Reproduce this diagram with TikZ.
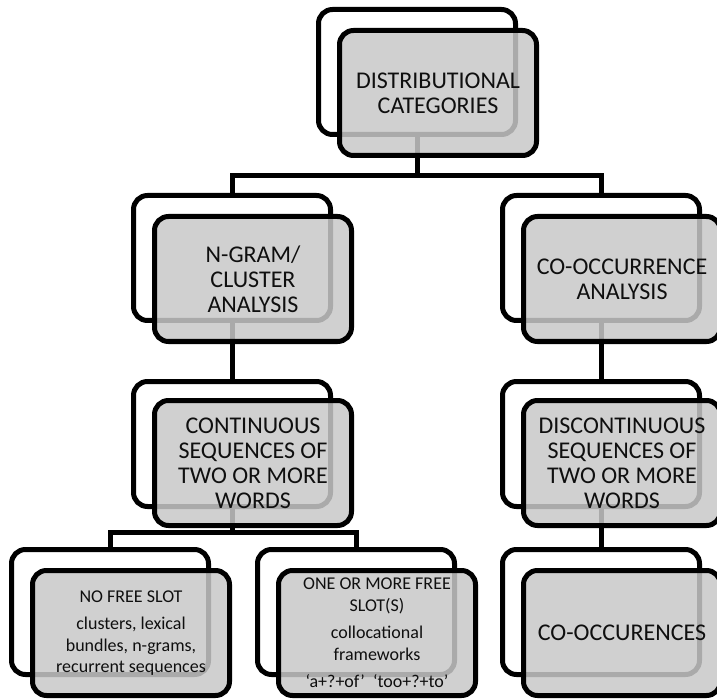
\documentclass[tikz,border=0pt]{standalone}
\usepackage{fontspec}
\setmainfont{Carlito}
\newcommand\catfontbig{\fontsize{24}{25}\selectfont}
\newcommand\catfontsmall{\fontsize{18}{21.5}\selectfont}
\definecolor{frontgray}{RGB}{200,200,200}
\definecolor{labelink}{RGB}{15,15,15}
\begin{document}
\begin{tikzpicture}[x=1pt,y=-1pt,
  boxbase/.style={line width=5pt, rounded corners=14pt, minimum width=197pt,
    minimum height=125pt, inner sep=0pt, rectangle},
  backbox/.style={boxbase, draw=black, fill=white},
  frontbox/.style={boxbase, draw=black, fill=frontgray, fill opacity=0.85,
    draw opacity=1, text opacity=1, align=center, font=\catfontbig, text=labelink},
  link/.style={draw=black, line width=5pt}
]
\useasboundingbox (0,0) rectangle (717,700);

% outline boxes sitting behind each category
\node[backbox] (Ab) at (417,72)  {};
\node[backbox] (Bb) at (232,258) {};
\node[backbox] (Cb) at (601,258) {};
\node[backbox] (Db) at (232,444) {};
\node[backbox] (Eb) at (601,444) {};
\node[backbox] (Fb) at (110,612) {};
\node[backbox] (Gb) at (356,612) {};
\node[backbox] (Hb) at (601,612) {};

% tree connectors
\coordinate (barTop) at (0,176);
\coordinate (barLow) at (0,532);
\draw[link] (Ab.south) -- (Ab.south |- barTop);
\draw[link] (Bb.north) |- (barTop -| Cb.north) -- (Cb.north);
\draw[link] (Bb.south) -- (Db.north);
\draw[link] (Cb.south) -- (Eb.north);
\draw[link] (Db.south) -- (Db.south |- barLow);
\draw[link] (Fb.north) |- (barLow -| Gb.north) -- (Gb.north);
\draw[link] (Eb.south) -- (Hb.north);

% translucent labelled boxes
\node[frontbox] (Af) at (438,93) {DISTRIBUTIONAL\\CATEGORIES};
\node[frontbox] (Bf) at (253,279) {\fontsize{24}{27}\selectfont N-GRAM/\\CLUSTER\\ANALYSIS};
\node[frontbox] (Cf) at (622,279) {CO-OCCURRENCE\\ANALYSIS};
\node[frontbox] (Df) at (253,463) {CONTINUOUS\\SEQUENCES OF\\TWO OR MORE\\WORDS};
\node[frontbox] (Ef) at (622,463) {DISCONTINUOUS\\SEQUENCES OF\\TWO OR MORE\\WORDS};
\node[frontbox, font=\catfontsmall] (Ff) at (131,633)
  {NO FREE SLOT\\[6pt]clusters, lexical\\bundles, n-grams,\\recurrent sequences};
\node[frontbox, font=\catfontsmall] (Gf) at (377,633)
  {ONE OR MORE FREE\\SLOT(S)\\[6pt]collocational\\frameworks\\[6pt]‘a+?+of’\ \ ‘too+?+to’};
\node[frontbox] (Hf) at (622,633) {CO-OCCURENCES};
\end{tikzpicture}
\end{document}
